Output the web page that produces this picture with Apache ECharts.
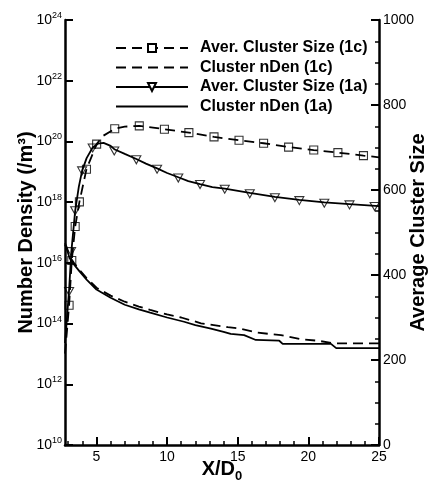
<!DOCTYPE html>
<html><head><meta charset="utf-8">
<script src="https://cdn.jsdelivr.net/npm/echarts@6/dist/echarts.min.js"></script>
<style>html,body{margin:0;padding:0;background:#fff}#c{width:432px;height:481px}</style>
</head><body><div id="c"></div>
<script>
// ---- tick labels / axis ranges ----
const xMajorTicks = [5, 10, 15, 20, 25];
const xMinorTicks = [3, 4, 6, 7, 8, 9, 11, 12, 13, 14, 16, 17, 18, 19, 21, 22, 23, 24];
const xMin = 2.77, xMax = 25;

// ---- Cluster nDen (1a), solid, log axis (exponents of 10) ----
const nden1aX = [2.77, 2.9, 3.1, 3.4, 3.8, 4.3, 5.0, 5.3, 6.0, 7.0, 8.0, 8.8, 10.0, 11.2, 12.0, 13.1, 14.0, 14.5, 15.45, 16.28, 17.94, 18.18, 21.6, 21.97, 25.0];
const nden1aLog10 = [16.6, 16.45, 16.15, 15.95, 15.72, 15.45, 15.12, 15.04, 14.85, 14.62, 14.47, 14.36, 14.2, 14.06, 13.95, 13.83, 13.73, 13.66, 13.62, 13.46, 13.435, 13.33, 13.33, 13.19, 13.19];

// ---- Cluster nDen (1c), dashed ----
const nden1cX = [2.77, 2.9, 3.1, 3.4, 3.8, 4.3, 5.0, 6.0, 7.0, 8.0, 8.8, 10.0, 11.0, 12.4, 14.3, 15.09, 16.4, 18.06, 19.48, 20.66, 21.84, 25.0];
const nden1cLog10 = [16.65, 16.5, 16.2, 16.0, 15.77, 15.5, 15.18, 14.92, 14.72, 14.56, 14.45, 14.3, 14.2, 14.01, 13.88, 13.84, 13.70, 13.62, 13.48, 13.435, 13.35, 13.35];

// ---- Aver. Cluster Size (1a), solid line ----
const size1aX = [2.77, 2.9, 3.06, 3.22, 3.49, 3.75, 3.98, 4.3, 4.73, 5.1, 5.5, 6.0, 6.26, 7.0, 7.82, 8.5, 9.29, 10.0, 10.79, 11.5, 12.33, 13.2, 14.08, 15.85, 17.63, 19.36, 21.13, 22.91, 25.0];
const size1aY = [240, 295, 365, 455, 551, 608, 645, 675, 700, 709, 711, 704, 696, 685, 673, 662, 651, 640, 630, 621, 614, 607, 603, 593, 584, 577, 571, 567, 562];
// triangle markers (1a)
const tri1aX = [3.06, 3.2, 3.49, 3.98, 4.73, 6.26, 7.82, 9.29, 10.79, 12.33, 14.08, 15.85, 17.63, 19.36, 21.13, 22.91, 24.69];
const tri1aY = [361, 455, 551, 645, 699, 692, 671, 649, 628, 613, 602, 591, 582, 575, 569, 565, 561];

// ---- Aver. Cluster Size (1c), dashed line ----
const size1cX = [2.77, 2.9, 3.06, 3.25, 3.49, 3.79, 4.29, 5.01, 5.45, 6.29, 7.0, 8.03, 9.0, 9.81, 11.54, 13.32, 15.09, 16.83, 18.6, 20.38, 22.09, 23.9, 25.0];
const size1cY = [215, 265, 329, 434, 514, 572, 649, 708, 727, 744, 749, 751, 747, 743, 735, 725, 717, 710, 701, 694, 688, 681, 677];
// square markers (1c)
const sq1cX = [3.06, 3.25, 3.49, 3.79, 4.29, 5.01, 6.29, 8.03, 9.81, 11.54, 13.32, 15.09, 16.83, 18.6, 20.38, 22.09, 23.9];
const sq1cY = [329, 434, 514, 572, 649, 708, 744, 751, 743, 735, 725, 717, 710, 701, 694, 688, 681];

const names = ['Aver. Cluster Size (1c)', 'Cluster nDen (1c)', 'Aver. Cluster Size (1a)', 'Cluster nDen (1a)'];

const zip = (xs, ys) => xs.map((x, i) => [x, ys[i]]);
const zipLog = (xs, es) => xs.map((x, i) => [x, Math.pow(10, es[i])]);

const FONT = 'Liberation Sans, Arial, Helvetica, sans-serif';
const DASH = [10, 6];
const LW = 1.8;
const TITLE = {fontSize: 20, fontWeight: 'bold', color: '#000', fontFamily: FONT};

const chart = echarts.init(document.getElementById('c'), null, {renderer: 'canvas'});
chart.setOption({
  animation: false,
  backgroundColor: '#fff',
  textStyle: {fontFamily: FONT, color: '#000'},
  grid: {left: 65, right: 53, top: 20, bottom: 36, containLabel: false, outerBoundsMode: 'none'},
  legend: {
    orient: 'vertical', left: 110, top: 35,
    itemWidth: 72, itemHeight: 10, itemGap: 3.5,
    textStyle: {fontSize: 16, lineHeight: 16, fontWeight: 'bold', color: '#000', fontFamily: FONT, padding: [0, 0, 0, 7]},
    data: [
      {name: names[0]},
      {name: names[1], itemStyle: {color: 'rgba(0,0,0,0)', borderColor: 'rgba(0,0,0,0)', borderWidth: 0}},
      {name: names[2]},
      {name: names[3], itemStyle: {color: 'rgba(0,0,0,0)', borderColor: 'rgba(0,0,0,0)', borderWidth: 0}}
    ]
  },
  xAxis: [
    {
      type: 'value', min: xMin, max: xMax, position: 'bottom',
      name: '{t|X/D}{sub|0}', nameLocation: 'middle', nameGap: 14, nameMoveOverlap: false,
      nameTextStyle: {rich: {
        t: {fontSize: 20, fontWeight: 'bold', fontFamily: FONT, color: '#000', lineHeight: 24, verticalAlign: 'top'},
        sub: {fontSize: 13, fontWeight: 'bold', fontFamily: FONT, color: '#000', lineHeight: 13, verticalAlign: 'bottom'}
      }},
      axisLine: {show: true, onZero: false, lineStyle: {color: '#000', width: 2.5}},
      axisTick: {show: true, inside: true, length: 8, customValues: xMajorTicks, lineStyle: {color: '#000', width: 2}},
      axisLabel: {show: true, customValues: xMajorTicks, fontSize: 14, color: '#000', margin: 5, fontFamily: FONT},
      splitLine: {show: false}
    },
    {
      type: 'value', min: xMin, max: xMax, position: 'bottom', offset: 0,
      axisLine: {show: false},
      axisTick: {show: true, inside: true, length: 4, customValues: xMinorTicks, lineStyle: {color: '#000', width: 1.5}},
      axisLabel: {show: false},
      splitLine: {show: false}
    }
  ],
  yAxis: [
    {
      type: 'log', logBase: 10, min: 1e10, max: 1e24, interval: 2, position: 'left',
      name: 'Number Density (/m³)', nameLocation: 'middle', nameRotate: 90, nameGap: 29, nameMoveOverlap: false,
      nameTextStyle: TITLE,
      axisLine: {show: true, onZero: false, lineStyle: {color: '#000', width: 2.5}},
      axisTick: {show: true, inside: true, length: 8, lineStyle: {color: '#000', width: 2}},
      axisLabel: {
        margin: 3, fontFamily: FONT,
        formatter: v => '{b|10}{s|' + Math.round(Math.log10(v)) + '}',
        rich: {
          b: {fontSize: 14, color: '#000', fontFamily: FONT, lineHeight: 18},
          s: {fontSize: 9, color: '#000', fontFamily: FONT, lineHeight: 10, verticalAlign: 'top'}
        }
      },
      splitLine: {show: false}, minorTick: {show: false}
    },
    {
      type: 'value', min: 0, max: 1000, interval: 200, position: 'right',
      name: 'Average Cluster Size', nameLocation: 'middle', nameRotate: 90, nameGap: 29, nameMoveOverlap: false,
      nameTextStyle: TITLE,
      axisLine: {show: true, onZero: false, lineStyle: {color: '#000', width: 2.5}},
      axisTick: {show: true, inside: true, length: 8, lineStyle: {color: '#000', width: 2}},
      minorTick: {show: true, splitNumber: 4, length: 4, lineStyle: {color: '#000', width: 1.5}},
      axisLabel: {margin: 4, fontSize: 14, color: '#000', fontFamily: FONT, formatter: v => String(v)},
      splitLine: {show: false}
    }
  ],
  series: [
    {
      name: names[0], type: 'line', xAxisIndex: 0, yAxisIndex: 1,
      data: zip(size1cX, size1cY), smooth: false,
      symbol: 'rect', showSymbol: false, symbolSize: 8,
      itemStyle: {color: '#fff', borderColor: '#000', borderWidth: 1},
      lineStyle: {color: '#000', width: LW, type: DASH}, z: 3
    },
    {
      name: names[1], type: 'line', xAxisIndex: 0, yAxisIndex: 0,
      data: zipLog(nden1cX, nden1cLog10),
      symbol: 'none', showSymbol: false,
      itemStyle: {color: '#000'},
      lineStyle: {color: '#000', width: LW, type: DASH}, z: 3
    },
    {
      name: names[2], type: 'line', xAxisIndex: 0, yAxisIndex: 1,
      data: zip(size1aX, size1aY),
      symbol: 'triangle', symbolRotate: 180, showSymbol: false, symbolSize: 8,
      itemStyle: {color: '#fff', borderColor: '#000', borderWidth: 1},
      lineStyle: {color: '#000', width: LW, type: 'solid'}, z: 3
    },
    {
      name: names[3], type: 'line', xAxisIndex: 0, yAxisIndex: 0,
      data: zipLog(nden1aX, nden1aLog10),
      symbol: 'none', showSymbol: false,
      itemStyle: {color: '#000'},
      lineStyle: {color: '#000', width: LW, type: 'solid'}, z: 3
    },
    {
      name: 'sq1c', type: 'scatter', xAxisIndex: 0, yAxisIndex: 1,
      data: zip(sq1cX, sq1cY), symbol: 'rect', symbolSize: 8,
      itemStyle: {color: 'rgba(255,255,255,0)', borderColor: '#000', borderWidth: 1.1}, z: 4
    },
    {
      name: 'tri1a', type: 'scatter', xAxisIndex: 0, yAxisIndex: 1,
      data: zip(tri1aX, tri1aY), symbol: 'triangle', symbolRotate: 180, symbolSize: [9, 8],
      itemStyle: {color: 'rgba(255,255,255,0)', borderColor: '#000', borderWidth: 1.1}, z: 4
    }
  ]
});
</script>
</body></html>
